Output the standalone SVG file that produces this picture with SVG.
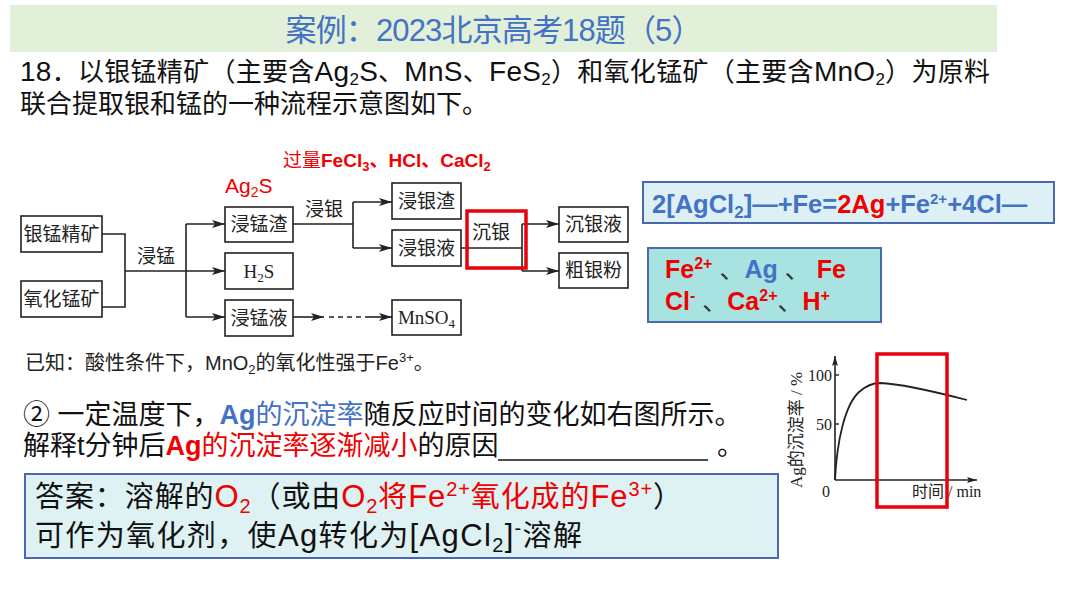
<svg xmlns="http://www.w3.org/2000/svg" width="1080" height="608" viewBox="0 0 1080 608">
<defs>
<style>
.sans{font-family:"Liberation Sans","Noto Sans CJK SC",sans-serif;}
.serif{font-family:"Liberation Serif","Noto Sans CJK SC",serif;}
.box{fill:#fff;stroke:#222;stroke-width:1.6;}
.lbl{font-size:19px;fill:#222;text-anchor:middle;}
.conn{fill:none;stroke:#222;stroke-width:1.6;}
.red{fill:#f00000;}
.blue{fill:#4472c4;}
.b{font-weight:bold;}
.hl{fill:none;stroke:#e8000b;stroke-width:3.5;}
.bluebox{stroke:#4a68ad;stroke-width:2;}
</style>
<marker id="arr" viewBox="0 0 13 8" refX="13" refY="4" markerWidth="13" markerHeight="8" orient="auto" markerUnits="userSpaceOnUse">
<path d="M0,0 L13,4 L0,8 L3,4 z" fill="#222"/>
</marker>
<marker id="arrs" viewBox="0 0 10 6" refX="10" refY="3" markerWidth="10" markerHeight="6" orient="auto" markerUnits="userSpaceOnUse">
<path d="M0,0 L10,3 L0,6 L2,3 z" fill="#222"/>
</marker>
</defs>
<rect width="1080" height="608" fill="#fff"/>

<g id="title">
<rect x="10" y="5" width="987" height="47" fill="#e2f0d9"/>
<text class="sans" x="494" y="41" font-size="31" fill="#4472c4" text-anchor="middle" textLength="417">案例：2023北京高考18题（5）</text>
</g>

<g id="question" class="sans" font-size="26" fill="#111">
<text x="20" y="81" textLength="970"><tspan font-size="28">18</tspan>．以银锰精矿（主要含<tspan font-size="28">Ag</tspan><tspan font-size="17" dy="4">2</tspan><tspan dy="-4" font-size="28">S</tspan>、<tspan font-size="28">MnS</tspan>、<tspan font-size="28">FeS</tspan><tspan font-size="17" dy="4">2</tspan><tspan dy="-4">）和氧化锰矿（主要含</tspan><tspan font-size="28">MnO</tspan><tspan font-size="17" dy="4">2</tspan><tspan dy="-4">）为原料</tspan></text>
<text x="20" y="113">联合提取银和锰的一种流程示意图如下。</text>
</g>

<g id="connectors">
<path class="conn" d="M102,234 H125 V307 H102"/>
<path class="conn" d="M125,271 H225" marker-end="url(#arr)"/>
<path class="conn" d="M186,224 V317"/>
<path class="conn" d="M186,224 H225" marker-end="url(#arr)"/>
<path class="conn" d="M186,317 H225" marker-end="url(#arr)"/>
<path class="conn" d="M293,224 H353 V248"/>
<path class="conn" d="M353,202 V224"/>
<path class="conn" d="M353,202 H392" marker-end="url(#arr)"/>
<path class="conn" d="M353,248 H392" marker-end="url(#arr)"/>
<path class="conn" d="M461,248 H522"/>
<path class="conn" d="M522,224 V271"/>
<path class="conn" d="M522,224 H559" marker-end="url(#arr)"/>
<path class="conn" d="M522,271 H559" marker-end="url(#arr)"/>
<path class="conn" d="M293,317 H324" marker-end="url(#arr)"/>
<path class="conn" d="M329,317 H367" stroke-dasharray="5,4"/>
<path class="conn" d="M367,317 H392" marker-end="url(#arr)"/>
</g>

<g id="edge-labels" class="sans" font-size="19" fill="#222">
<text x="137" y="263">浸锰</text>
<text x="305" y="216">浸银</text>
<text x="472" y="239">沉银</text>
<text class="red" x="225" y="193" font-size="21">Ag<tspan font-size="14" dy="4">2</tspan><tspan dy="-4">S</tspan></text>
<text class="red" x="283" y="167" font-size="19">过量<tspan class="b">FeCl<tspan font-size="13" dy="4">3</tspan><tspan dy="-4">、HCl、CaCl</tspan><tspan font-size="13" dy="4">2</tspan></tspan></text>
</g>

<g id="n-yinmeng">
<rect class="box" x="21" y="216" width="81" height="36"/>
<text class="sans lbl" x="61.5" y="241">银锰精矿</text>
</g>
<g id="n-yanghua">
<rect class="box" x="21" y="281" width="81" height="36"/>
<text class="sans lbl" x="61.5" y="306">氧化锰矿</text>
</g>
<g id="n-jinmengzha">
<rect class="box" x="225" y="207" width="68" height="35"/>
<text class="sans lbl" x="259" y="231">浸锰渣</text>
</g>
<g id="n-h2s">
<rect class="box" x="225" y="253" width="68" height="36"/>
<text class="serif lbl" x="259" y="278" font-size="20">H<tspan font-size="13" dy="4">2</tspan><tspan dy="-4">S</tspan></text>
</g>
<g id="n-jinmengye">
<rect class="box" x="225" y="300" width="68" height="36"/>
<text class="sans lbl" x="259" y="325">浸锰液</text>
</g>
<g id="n-jinyinzha">
<rect class="box" x="392" y="183" width="69" height="36"/>
<text class="sans lbl" x="426.5" y="208">浸银渣</text>
</g>
<g id="n-jinyinye">
<rect class="box" x="392" y="230" width="69" height="36"/>
<text class="sans lbl" x="426.5" y="255">浸银液</text>
</g>
<g id="n-mnso4">
<rect class="box" x="392" y="300" width="69" height="35"/>
<text class="serif lbl" x="426.5" y="324" font-size="20">MnSO<tspan font-size="13" dy="4">4</tspan></text>
</g>
<g id="n-chenyinye">
<rect class="box" x="559" y="207" width="69" height="35"/>
<text class="sans lbl" x="593.5" y="231">沉银液</text>
</g>
<g id="n-cuyinfen">
<rect class="box" x="559" y="253" width="69" height="35"/>
<text class="sans lbl" x="593.5" y="277">粗银粉</text>
</g>
<g id="hl-chenyin">
<rect class="hl" x="467" y="211" width="59" height="57"/>
</g>

<g id="equation">
<rect class="bluebox" x="643" y="182" width="411" height="41" fill="#dcf0f6"/>
<text class="sans b blue" x="652" y="213" font-size="25.5">2[AgCl<tspan font-size="17" dy="5">2</tspan><tspan dy="-5">]—+Fe=</tspan><tspan class="red">2Ag</tspan>+Fe<tspan font-size="15" dy="-9">2+</tspan><tspan dy="9">+4Cl—</tspan></text>
</g>

<g id="ions">
<rect class="bluebox" x="648" y="248" width="233" height="74" fill="#a8e3e1"/>
<text class="sans b" x="665" y="278" font-size="25"><tspan class="red">Fe<tspan font-size="16" dy="-9">2+</tspan></tspan><tspan dy="9" fill="#333" font-weight="normal"> 、</tspan><tspan class="blue">Ag</tspan><tspan fill="#333" font-weight="normal"> 、 </tspan><tspan class="red">Fe</tspan></text>
<text class="sans b" x="665" y="310" font-size="25"><tspan class="red">Cl<tspan font-size="16" dy="-9">-</tspan></tspan><tspan dy="9" fill="#333" font-weight="normal"> 、</tspan><tspan class="red">Ca<tspan font-size="16" dy="-9">2+</tspan></tspan><tspan dy="9" fill="#333" font-weight="normal">、</tspan><tspan class="red">H<tspan font-size="16" dy="-9">+</tspan></tspan></text>
</g>

<g id="known" class="sans" fill="#222">
<text x="25" y="370" font-size="20">已知：酸性条件下，MnO<tspan font-size="13" dy="4">2</tspan><tspan dy="-4">的氧化性强于Fe</tspan><tspan font-size="13" dy="-8">3+</tspan><tspan dy="8">。</tspan></text>
</g>

<g id="sub-question" class="sans" font-size="27" fill="#111">
<text x="23" y="424">② 一定温度下，<tspan class="blue b">Ag</tspan><tspan class="blue">的沉淀率</tspan>随反应时间的变化如右图所示。</text>
<text x="23" y="455">解释t分钟后<tspan class="red b">Ag</tspan><tspan class="red">的沉淀率逐渐减小</tspan>的原因</text>
<line x1="498" y1="460" x2="708" y2="460" stroke="#111" stroke-width="1.3"/>
<text x="717" y="455">。</text>
</g>

<g id="answer">
<rect class="bluebox" x="25" y="474" width="753" height="84" fill="#def2f3"/>
<text class="sans" x="35" y="507" font-size="29" fill="#111" textLength="647">答案：溶解的<tspan class="red" font-size="31">O<tspan font-size="20" dy="6">2</tspan></tspan><tspan dy="-6">（或由</tspan><tspan class="red"><tspan font-size="31">O</tspan><tspan font-size="20" dy="6">2</tspan><tspan dy="-6">将</tspan><tspan font-size="31">Fe</tspan><tspan font-size="20" dy="-11">2+</tspan><tspan dy="11">氧化成的</tspan><tspan font-size="31">Fe</tspan><tspan font-size="20" dy="-11">3+</tspan></tspan><tspan dy="11">）</tspan></text>
<text class="sans" x="35" y="546" font-size="29" fill="#111" textLength="547">可作为氧化剂，使<tspan font-size="31">Ag</tspan>转化为<tspan font-size="31">[AgCl</tspan><tspan font-size="20" dy="6">2</tspan><tspan dy="-6" font-size="31">]</tspan><tspan font-size="20" dy="-11">-</tspan><tspan dy="11">溶解</tspan></text>
</g>

<g id="chart">
<path class="conn" d="M835,480 V356" marker-end="url(#arrs)"/>
<path class="conn" d="M835,480 H977" marker-end="url(#arrs)"/>
<line x1="835" y1="375" x2="839" y2="375" stroke="#222" stroke-width="1.4"/>
<line x1="835" y1="424" x2="839" y2="424" stroke="#222" stroke-width="1.4"/>
<path d="M835,480 C837,440 845,405 859,392 C867,385 873,383 880,383 C905,384 940,393 967,400" fill="none" stroke="#222" stroke-width="1.8"/>
<g class="serif" font-size="16" fill="#222">
<text x="832" y="381" text-anchor="end">100</text>
<text x="832" y="430" text-anchor="end">50</text>
<text x="822" y="497">0</text>
<text x="912" y="497">时间 / min</text>
<text transform="translate(802,430) rotate(-90)" text-anchor="middle" font-size="17">Ag的沉淀率 / %</text>
</g>
<rect class="hl" x="877" y="354" width="70" height="153"/>
</g>
</svg>
